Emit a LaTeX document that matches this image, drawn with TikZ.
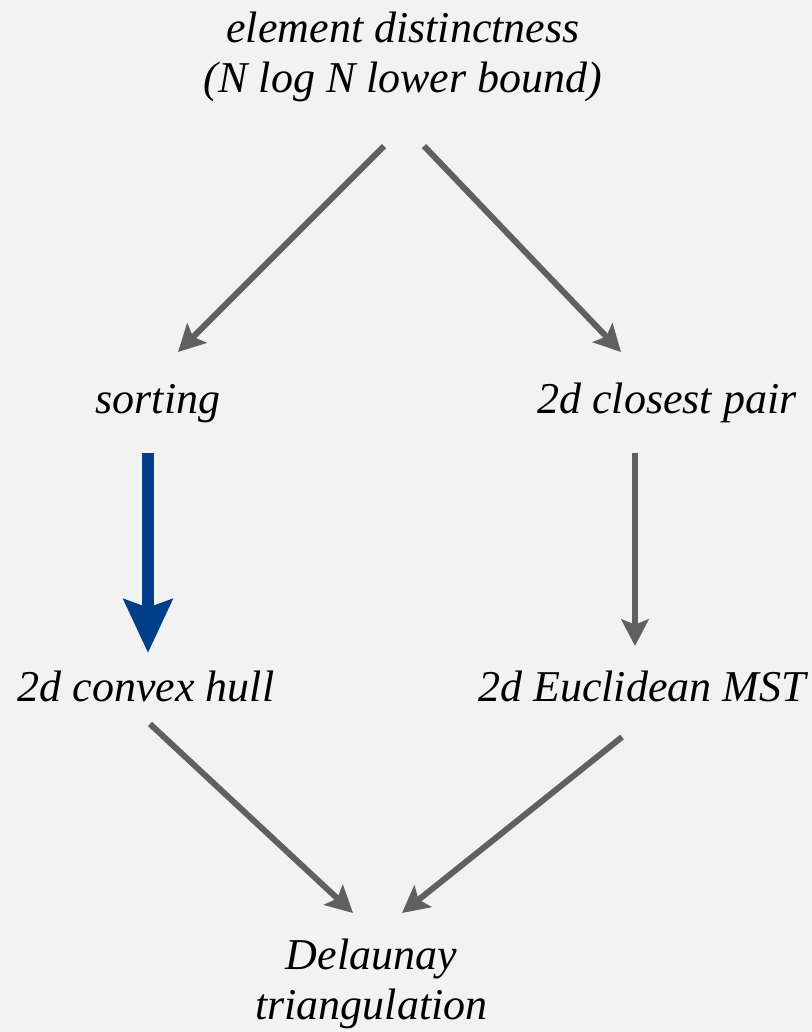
\documentclass[tikz,border=0pt]{standalone}
\usepackage{fontspec}
\setmainfont{Liberation Serif}
\usetikzlibrary{arrows.meta,calc}
\definecolor{bg}{HTML}{F2F2F2}
\definecolor{edgegray}{HTML}{606060}
\definecolor{navy}{HTML}{003F87}
\begin{document}
\begin{tikzpicture}[x=0.75pt,y=-0.75pt,
  lbl/.style={inner sep=0pt, anchor=base, align=center,
    font=\fontsize{33}{37.5}\selectfont\itshape},
  link/.style={draw=edgegray, line width=4.5pt,
    -{Stealth[length=20pt,width=20.5pt,inset=4pt]}},
  key/.style={draw=navy, line width=9pt,
    -{Stealth[length=40pt,width=36pt,inset=6pt]}}]
% canvas
\fill[bg] (0,0) rectangle (812,1032);
\useasboundingbox (0,0) rectangle (812,1032);

% problems (base anchor = baseline of the last line)
\node[lbl] (ed)   at (403,92)     {element distinctness\\(N log N lower bound)};
\node[lbl] (sort) at (158,413)    {sorting};
\node[lbl] (cp)   at (667,413)    {2d closest pair};
\node[lbl] (hull) at (146,701)    {2d convex hull};
\node[lbl] (mst)  at (642,701)    {2d Euclidean MST};
\node[lbl] (dt)   at (371.5,1019) {Delaunay\\triangulation};

% reductions
\draw[link] ($(ed.base)+(-19,54)$)   -- ($(sort.base)+(20,-61)$);
\draw[link] ($(ed.base)+(21,54)$)    -- ($(cp.base)+(-46,-61)$);
\draw[key]  ($(sort.base)+(-10,40)$) -- ($(hull.base)+(2,-48)$);
\draw[link] ($(cp.base)+(-32,40)$)   -- ($(mst.base)+(-7,-55)$);
\draw[link] ($(hull.base)+(4,23)$)   -- ($(dt.base)+(-18.5,-106)$);
\draw[link] ($(mst.base)+(-20,36)$)  -- ($(dt.base)+(30.5,-106)$);
\end{tikzpicture}
\end{document}
